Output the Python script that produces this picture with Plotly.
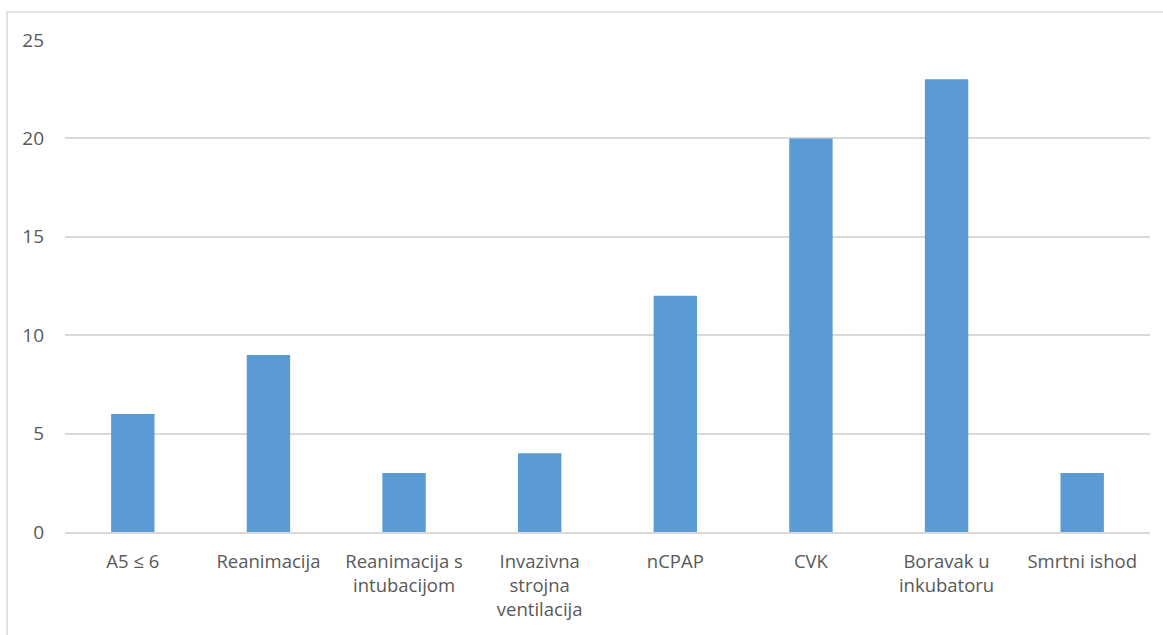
import plotly.graph_objects as go

categories = ["A5 ≤ 6", "Reanimacija", "Reanimacija s<br>intubacijom",
              "Invazivna<br>strojna<br>ventilacija", "nCPAP", "CVK",
              "Boravak u<br>inkubatoru", "Smrtni ishod"]
values = [6, 9, 3, 4, 12, 20, 23, 3]
y_ticks = [0, 5, 10, 15, 20, 25]

W, H = 1163, 635
L, R, T, B = 65, 13, 40, 103
pw, ph = W - L - R, H - T - B

fig = go.Figure(go.Bar(x=categories, y=values, marker_color="#5B9BD5",
                       marker_line_width=0))

fig.update_layout(
    width=W, height=H,
    margin=dict(l=L, r=R, t=T, b=B),
    paper_bgcolor="white", plot_bgcolor="white",
    bargap=0.68,
    font=dict(family="Open Sans", size=19, color="#595959"),
    showlegend=False,
    shapes=[dict(type="rect", xref="paper", yref="paper",
                 x0=(7 - L) / pw, x1=(W + 5 - L) / pw,
                 y0=-(H + 5 - T - ph) / ph, y1=1 + (T - 12) / ph,
                 line=dict(color="#D9D9D9", width=1.5), layer="below")],
)
fig.update_xaxes(showgrid=False, showline=True, linecolor="#D9D9D9", linewidth=1.5,
                 ticks="", ticklabelstandoff=12, tickfont=dict(size=18.5))
fig.update_yaxes(range=[0, 25], tickvals=y_ticks, showgrid=True,
                 gridcolor="#D9D9D9", gridwidth=1.5, zeroline=False,
                 showline=False, ticks="", ticklabelstandoff=20,
                 tickfont=dict(size=19))

fig.write_html("out.html", config={"displayModeBar": False},
               post_script="document.body.style.margin='0';document.body.style.overflow='hidden';")
